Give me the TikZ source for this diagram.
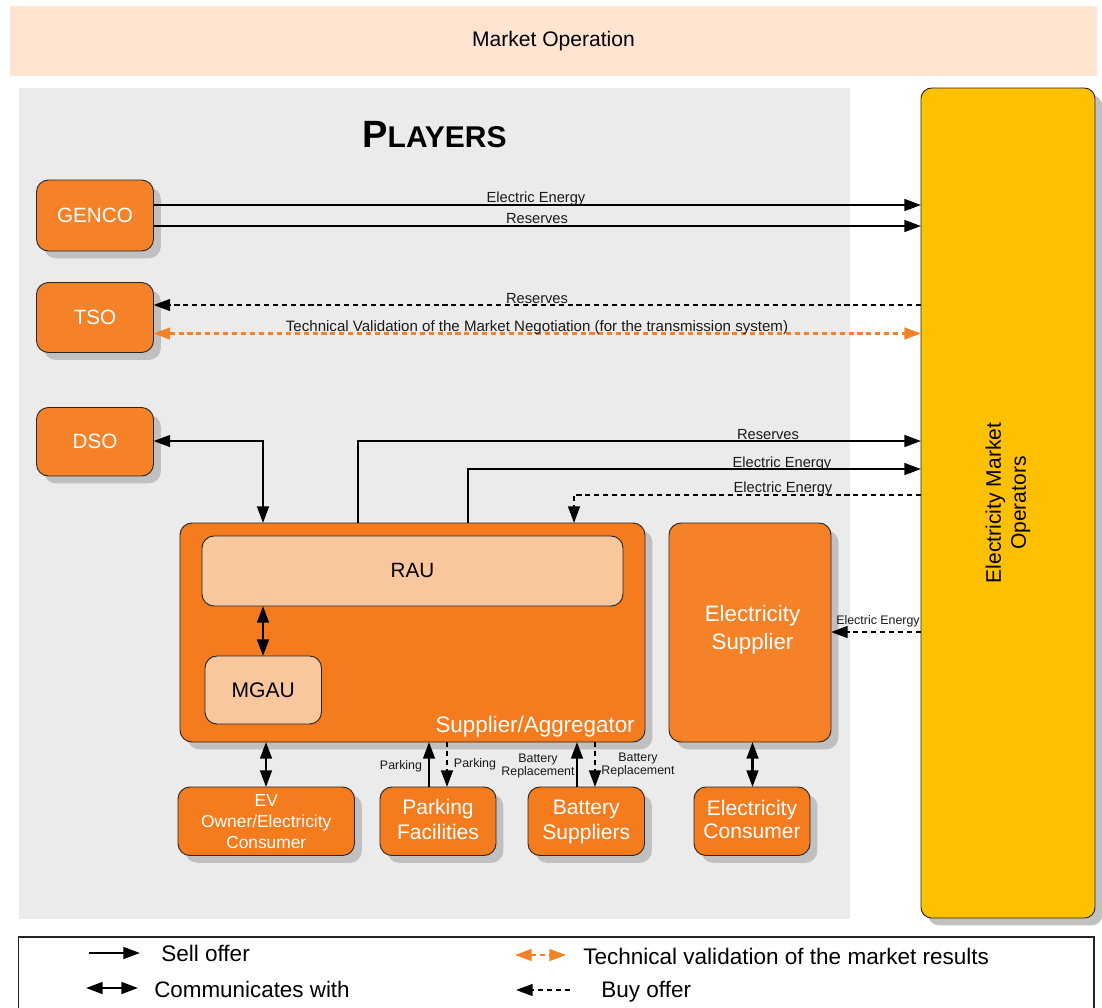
\documentclass[tikz,border=0pt]{standalone}
\usepackage{fontspec}
\setmainfont{Liberation Sans}
\usetikzlibrary{arrows.meta,shadows}
\definecolor{opbg}{HTML}{FFE4D2}
\definecolor{plbg}{HTML}{EBEBEB}
\definecolor{orA}{HTML}{F58228}
\definecolor{orB}{HTML}{F47B1E}
\definecolor{pale}{HTML}{F8C79E}
\definecolor{gold}{HTML}{FFC000}
\definecolor{shad}{HTML}{C0C0C0}
\newcommand{\fs}[1]{\fontsize{#1}{#1}\selectfont}
\newcommand{\toprule}{\rule{0pt}{14pt}}
\tikzset{
  span/.style args={#1/#2/#3/#4}{minimum width={(#3-#1)*0.75pt},minimum height={(#4-#2)*0.75pt},
    at={({(#1+#3)/2},{(#2+#4)/2})}},
  plainbox/.style={rounded corners=9pt,draw=black!85,line width=0.7pt,inner sep=0pt,outer sep=0pt,align=center},
  basebox/.style={plainbox,general shadow={fill=shad,shadow xshift=5.5pt,shadow yshift=-5.5pt}},
  obox/.style={basebox,fill=orA,text=white},
  sbox/.style={basebox,fill=orB,text=white},
  pbox/.style={plainbox,fill=pale,text=black},
  lab/.style={inner sep=0pt,text=black!90,font=\fs{11}},
  small/.style={inner sep=0pt,text=black!90,font=\fs{9.3},align=center},
  legtext/.style={inner sep=0pt,font=\fs{16.9},anchor=west},
  conn/.style={line width=1.7pt,draw=black},
  one/.style={conn,-{Triangle[length=12.5pt,width=8.8pt]}},
  both/.style={conn,{Triangle[length=12.5pt,width=8.8pt]}-{Triangle[length=12.5pt,width=8.8pt]}},
  buy/.style={conn,dash pattern=on 3.8pt off 2.9pt,-{Triangle[length=12.5pt,width=8.8pt]}},
  val/.style={line width=1.7pt,draw=orA,dash pattern=on 3.8pt off 2.9pt,
    {Triangle[length=12.5pt,width=8.8pt]}-{Triangle[length=12.5pt,width=8.8pt]}},
}
\begin{document}
\begin{tikzpicture}[x=0.75pt,y=-0.75pt]
\useasboundingbox (0,0) rectangle (1102,1007);
% backgrounds
\node[fill=opbg,inner sep=0pt,font=\fs{15.8},span=10/6/1097/76] (market) {Market Operation};
\node[fill=plbg,inner sep=0pt,span=19/88/850/919] (players) {};
\node[inner sep=0pt,font=\bfseries] (title) at (434.5,135) {\fs{28.5}P\fs{22.5}LAYERS};
% boxes
\node[basebox,fill=gold,text=black,rounded corners=8pt,span=921/88/1095/918] (emo) {};
\node[inner sep=0pt,rotate=90,align=center,font=\fs{15.8}] (emotext) at (1008,503) {Electricity Market\\[3pt]Operators};
\node[obox,font=\fs{15.5},span=36.5/180/153.5/251] (genco) {GENCO};
\node[obox,font=\fs{15.5},span=36.5/282.5/153.5/352.5] (tso) {TSO};
\node[obox,font=\fs{15.5},span=36.5/407.5/153.5/476] (dso) {DSO};
\node[sbox,span=180/523/645/742] (sa) {};
\node[pbox,font=\fs{15.5},span=202/536/623/606] (rau) {\raisebox{0.7pt}{RAU}};
\node[pbox,font=\fs{15.8},span=205/656/321.5/724] (mgau) {MGAU};
\node[inner sep=0pt,text=white,font=\fs{16.8},anchor=east] (satext) at (635,727) {Supplier/Aggregator};
\node[obox,span=669/523/831/742] (es) {};
\node[inner sep=0pt,text=white,align=center,font=\fs{16.7}] (estext) at (752.5,629.5) {Electricity\\[4pt]Supplier};
\node[sbox,font=\fs{13},span=178/787/354.5/855.5] (ev) {EV\\[2.7pt]Owner/Electricity\\[2.7pt]Consumer};
\node[sbox,font=\fs{15.8},span=380/787/496/855.5] (park) {\toprule\strut Parking\\[1.5pt]\strut Facilities};
\node[sbox,font=\fs{15.8},span=528/787/644.5/855.5] (batt) {\toprule\strut Battery\\[1.5pt]\strut Suppliers};
\node[sbox,font=\fs{15.8},span=694/787/810/855.5] (ec) {\toprule\strut Electricity\\[1.5pt]\strut Consumer};
% connectors
\draw[one] (genco.east |- 0,205) -- (emo.west |- 0,205);
\draw[one] (genco.east |- 0,226) -- (emo.west |- 0,226);
\draw[buy] (emo.west |- 0,305) -- (tso.east |- 0,305);
\draw[val] (tso.east |- 0,333.5) -- (emo.west |- 0,333.5);
\draw[both] (dso.east |- 0,441) -| (sa.north -| 263,0);
\draw[one] (sa.north -| 358,0) |- (emo.west |- 0,441);
\draw[one] (sa.north -| 468,0) |- (emo.west |- 0,469);
\draw[buy] (emo.west |- 0,495) -| (sa.north -| 574,0);
\draw[buy] (emo.west |- 0,632) -- (es.east |- 0,632);
\draw[both] (rau.south -| 263,0) -- (mgau.north -| 263,0);
\draw[both] (sa.south -| 266,0) -- (ev.north -| 266,0);
\draw[one] (park.north -| 429,0) -- (sa.south -| 429,0);
\draw[buy] (sa.south -| 447,0) -- (park.north -| 447,0);
\draw[one] (batt.north -| 577,0) -- (sa.south -| 577,0);
\draw[buy] (sa.south -| 595,0) -- (batt.north -| 595,0);
\draw[both] (es.south -| 752.5,0) -- (ec.north -| 752.5,0);
% labels
\node[lab] (l1) at (536,198.5) {Electric Energy};
\node[lab] (l2) at (537,219) {Reserves};
\node[lab] (l3) at (537,299) {Reserves};
\node[lab,font=\fs{11.3}] (l4) at (537,327.5) {Technical Validation of the Market Negotiation (for the transmission system)};
\node[lab] (l5) at (768,435) {Reserves};
\node[lab] (l6) at (782,463.5) {Electric Energy};
\node[lab] (l7) at (783,488.5) {Electric Energy};
\node[small] (l8) at (878,621) {Electric Energy};
\node[small] (l9) at (401,766) {Parking};
\node[small] (l10) at (475,764) {Parking};
\node[small] (l11) at (538,766) {Battery\\[1pt]Replacement};
\node[small] (l12) at (638,765) {Battery\\[1pt]Replacement};
% legend
\draw[line width=0.8pt,draw=black!85] (18.5,1012) -- (18.5,937) -- (1094,937) -- (1094,1012);
\coordinate (a1) at (89,953); \coordinate (a2) at (140,953);
\coordinate (b1) at (86,988); \coordinate (b2) at (138,988);
\coordinate (c1) at (515,955); \coordinate (c2) at (566,955);
\coordinate (d1) at (570,990); \coordinate (d2) at (516,990);
\draw[one] (a1) -- (a2);
\draw[both] (b1) -- (b2);
\draw[val] (c1) -- (c2);
\draw[buy] (d1) -- (d2);
\node[legtext] (t1) at (161,953) {Sell offer};
\node[legtext,font=\fs{16.8}] (t2) at (154,989) {Communicates with};
\node[legtext] (t3) at (583,956) {Technical validation of the market results};
\node[legtext] (t4) at (601,992) {Buy offer};
\end{tikzpicture}
\end{document}
